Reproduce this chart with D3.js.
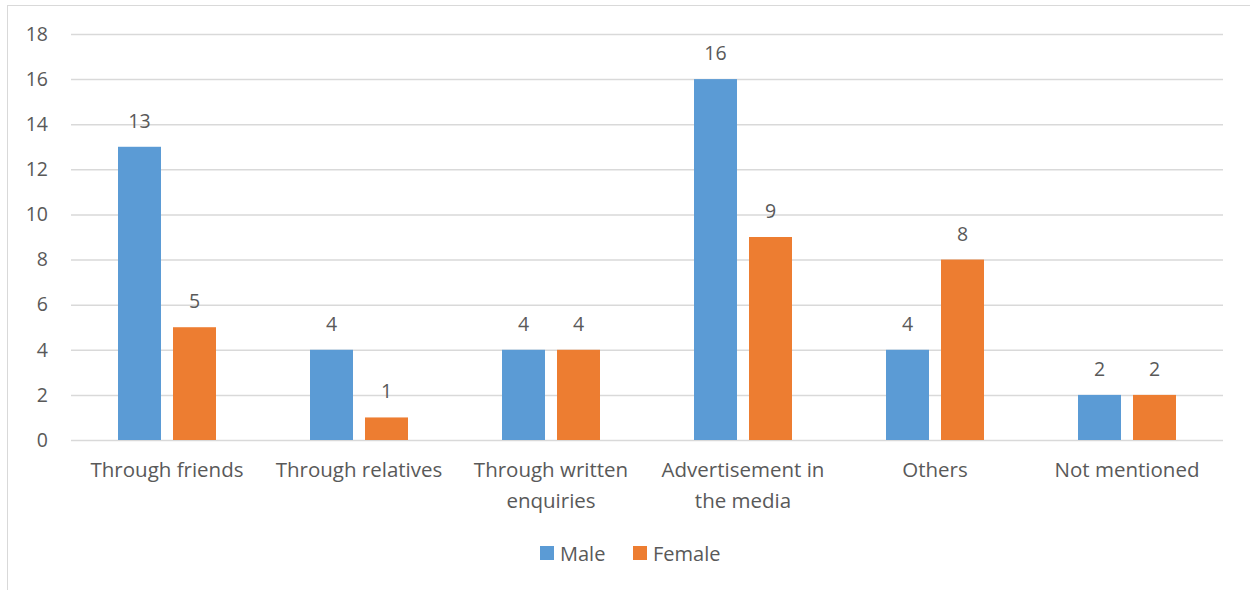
<!DOCTYPE html>
<html>
<head>
<meta charset="utf-8">
<script src="https://cdn.jsdelivr.net/npm/d3@7"></script>
<style>
  html, body { margin: 0; padding: 0; background: #fff; }
  svg { display: block; }
  text { font-family: "Open Sans", "Noto Sans", sans-serif; fill: #595959; }
</style>
</head>
<body>
<svg id="chart" width="1250" height="590"></svg>
<script>
// Survey data: how respondents heard about the programme, by gender
const categories = [
  ["Through friends"],
  ["Through relatives"],
  ["Through written", "enquiries"],
  ["Advertisement in", "the media"],
  ["Others"],
  ["Not mentioned"]
];
const seriesNames = ["Male", "Female"];
const maleValues = [13, 4, 4, 16, 4, 2];
const femaleValues = [5, 1, 4, 9, 8, 2];
const yTicks = [0, 2, 4, 6, 8, 10, 12, 14, 16, 18];
const colors = ["#5b9bd5", "#ed7d31"];

const svg = d3.select("#chart");
const W = 1250, H = 590;

// chart area outline (left and top edges visible)
svg.append("rect")
  .attr("x", 7.5).attr("y", 5.5)
  .attr("width", W + 10).attr("height", H + 10)
  .attr("fill", "#fff").attr("stroke", "#d9d9d9").attr("stroke-width", 1);

const plot = { left: 71, right: 1223, top: 34, bottom: 440 };

const x = d3.scaleBand()
  .domain(d3.range(categories.length))
  .range([plot.left, plot.right]);

const y = d3.scaleLinear()
  .domain([0, 18])
  .range([plot.bottom, plot.top]);

// two bars per category, 43px wide with a 12px gap
const xs = d3.scaleBand()
  .domain(seriesNames)
  .range([x.bandwidth() / 2 - 49, x.bandwidth() / 2 + 49])
  .paddingInner(12 / 55);

// gridlines
const yAxis = d3.axisLeft(y).tickValues(yTicks).tickSize(-(plot.right - plot.left)).tickPadding(23);
const gy = svg.append("g")
  .attr("transform", `translate(${plot.left},0)`)
  .call(yAxis);
gy.select(".domain").remove();
gy.selectAll(".tick line").attr("stroke", "#d9d9d9").attr("stroke-width", 1.5);
gy.selectAll(".tick text")
  .attr("font-size", 19.5)
  .attr("fill", "#595959")
  .style("font-family", '"Open Sans", "Noto Sans", sans-serif');

const series = [maleValues, femaleValues];

series.forEach((vals, si) => {
  const g = svg.append("g");
  g.selectAll("rect")
    .data(vals)
    .join("rect")
    .attr("x", (d, i) => x(i) + xs(seriesNames[si]))
    .attr("y", d => y(d))
    .attr("width", xs.bandwidth())
    .attr("height", d => y(0) - y(d))
    .attr("fill", colors[si]);

  g.selectAll("text")
    .data(vals)
    .join("text")
    .attr("x", (d, i) => x(i) + xs(seriesNames[si]) + xs.bandwidth() / 2)
    .attr("y", d => y(d) - 19)
    .attr("text-anchor", "middle")
    .attr("font-size", 19.5)
    .text(d => d);
});

// category labels
const xl = svg.append("g");
categories.forEach((lines, i) => {
  const t = xl.append("text")
    .attr("x", x(i) + x.bandwidth() / 2)
    .attr("y", 477)
    .attr("text-anchor", "middle")
    .attr("font-size", 20.5);
  lines.forEach((ln, k) => {
    t.append("tspan")
      .attr("x", x(i) + x.bandwidth() / 2)
      .attr("dy", k === 0 ? 0 : 31)
      .text(ln);
  });
});

// legend
const legend = svg.append("g").attr("transform", "translate(540,546)");
const legendX = [0, 93];
seriesNames.forEach((name, i) => {
  const lg = legend.append("g").attr("transform", `translate(${legendX[i]},0)`);
  lg.append("rect").attr("width", 14).attr("height", 14).attr("fill", colors[i]);
  lg.append("text").attr("x", 20).attr("y", 14.5).attr("font-size", 20).text(name);
});
</script>
</body>
</html>
